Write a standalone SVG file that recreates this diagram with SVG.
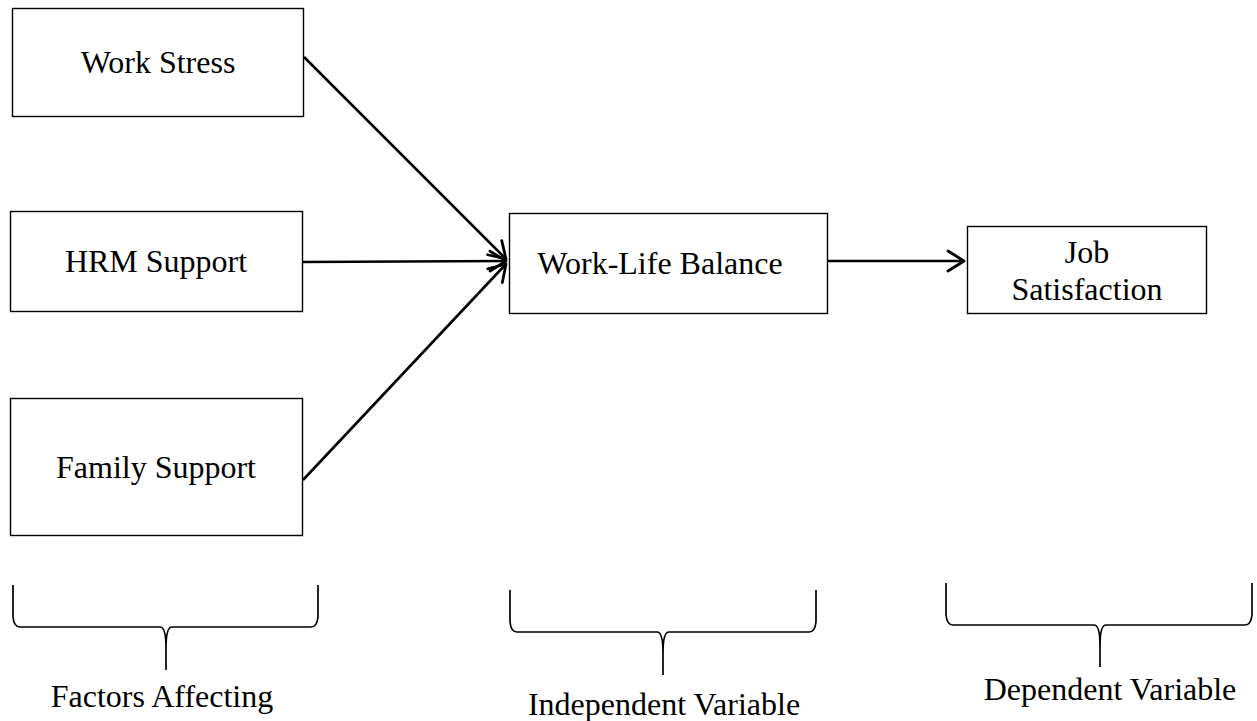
<svg xmlns="http://www.w3.org/2000/svg" width="1257" height="721" viewBox="0 0 1257 721">
<style>
.box{fill:#fff;stroke:#000;stroke-width:1.4}
.t{font-family:"Liberation Serif","Times New Roman",serif;font-size:32px;fill:#000;text-anchor:middle}
.arr{stroke:#000;stroke-width:2.6;fill:none;marker-end:url(#ah)}
.br{stroke:#000;stroke-width:1.7;fill:none}
</style>
<defs>
<marker id="ah" markerUnits="userSpaceOnUse" markerWidth="24" markerHeight="24" viewBox="-18 -12 24 24" refX="0" refY="0" orient="auto">
<path d="M-16,-10 L0,0 L-16,10" fill="none" stroke="#000" stroke-width="2.8" stroke-linecap="round" stroke-linejoin="round"/>
</marker>
</defs>
<rect width="1257" height="721" fill="#fff"/>
<g id="connectors">
<line class="arr" x1="304" y1="57" x2="506" y2="259"/>
<line class="arr" x1="302" y1="262" x2="506" y2="261"/>
<line class="arr" x1="303" y1="480" x2="506" y2="264"/>
<line class="arr" x1="828" y1="261" x2="964" y2="261"/>
</g>
<g id="n-work-stress">
<rect class="box" x="12.5" y="8.5" width="291" height="108"/>
<text class="t" x="158" y="73">Work Stress</text>
</g>
<g id="n-hrm-support">
<rect class="box" x="10.5" y="211.5" width="292" height="100"/>
<text class="t" x="156" y="272">HRM Support</text>
</g>
<g id="n-family-support">
<rect class="box" x="10.5" y="398.5" width="292" height="137"/>
<text class="t" x="156" y="478">Family Support</text>
</g>
<g id="n-wlb">
<rect class="box" x="509.5" y="213.5" width="318" height="100"/>
<text class="t" x="660" y="274">Work-Life Balance</text>
</g>
<g id="n-job">
<rect class="box" x="967.5" y="226.5" width="239" height="87"/>
<text class="t" x="1087" y="263">Job</text>
<text class="t" x="1087" y="300">Satisfaction</text>
</g>
<g id="brace-factors">
<path class="br" d="M13,585 L13,617 Q14,627 20,627 L160,627 Q166,627 166,648 L166,670 M166,648 Q166,627 172,627 L311,627 Q317,627 318,617 L318,585"/>
<text class="t" x="162" y="707">Factors Affecting</text>
</g>
<g id="brace-independent">
<path class="br" d="M510,590 L510,622 Q511,632 517,632 L657,632 Q663,632 663,653 L663,675 M663,653 Q663,632 669,632 L809,632 Q815,632 816,622 L816,590"/>
<text class="t" x="664" y="715">Independent Variable</text>
</g>
<g id="brace-dependent">
<path class="br" d="M946,583 L946,615 Q947,625 953,625 L1094,625 Q1100,625 1100,646 L1100,667 M1100,646 Q1100,625 1106,625 L1245,625 Q1251,625 1252,615 L1252,583"/>
<text class="t" x="1110" y="700">Dependent Variable</text>
</g>
</svg>
